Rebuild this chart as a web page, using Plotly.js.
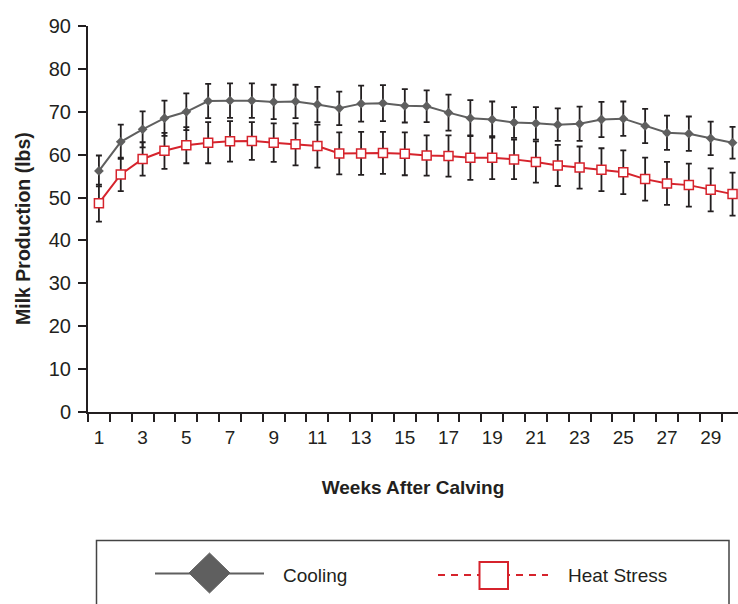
<!DOCTYPE html>
<html>
<head>
<meta charset="utf-8">
<script src="https://cdn.plot.ly/plotly-3.0.1.min.js"></script>
<style>html,body{margin:0;padding:0;background:#fff;}#chart{width:738px;height:604px;}</style>
</head>
<body>
<div id="chart"></div>
<script>
// ---- data ----
const weeks = [1,2,3,4,5,6,7,8,9,10,11,12,13,14,15,16,17,18,19,20,21,22,23,24,25,26,27,28,29,30];
const xTickLabels = ["1","3","5","7","9","11","13","15","17","19","21","23","25","27","29"];
const xTickWeeks = [1,3,5,7,9,11,13,15,17,19,21,23,25,27,29];
const cooling = [56.2,63.0,65.9,68.5,70.0,72.5,72.6,72.6,72.3,72.4,71.7,70.8,71.9,72.0,71.4,71.3,69.8,68.5,68.2,67.5,67.3,67.0,67.2,68.2,68.4,66.7,65.1,64.9,63.8,62.8];
const coolingErr = [3.6,4.0,4.2,4.1,4.3,4.0,4.0,4.0,4.0,3.9,4.1,3.9,4.2,4.2,3.9,3.7,4.2,4.2,4.2,3.6,3.8,3.8,4.0,4.1,4.0,4.0,4.0,4.0,3.9,3.7];
const heat = [48.7,55.4,59.0,60.9,62.2,62.8,63.1,63.2,62.8,62.4,62.0,60.3,60.3,60.4,60.2,59.8,59.7,59.3,59.3,58.9,58.3,57.5,57.0,56.5,55.9,54.3,53.3,52.9,51.8,50.8];
const heatErr = [4.3,3.9,3.9,4.2,4.2,4.8,4.7,4.4,4.5,4.9,5.0,4.9,5.0,4.9,5.0,4.7,4.8,5.2,5.0,4.6,4.8,4.8,4.9,5.0,5.1,5.0,5.0,5.0,5.0,5.0];
const seriesNames = ["Cooling", "Heat Stress"];
const xTitle = "Weeks After Calving";
const yTitle = "Milk Production (lbs)";

// ---- styles ----
const GRAY = "#5f5f5f";
const RED = "#d6232c";
const INK = "#231f20";
const FONT = "Liberation Sans, Arial, sans-serif";

const W = 738, H = 604, L = 88, R = 0, T = 26, B = 192;
const pw = W - L - R, ph = H - T - B;
const px = v => (v - L) / pw;
const py = v => (H - B - v) / ph;

const traces = [
  {
    x: weeks, y: cooling, name: seriesNames[0], type: "scatter", mode: "lines+markers",
    line: {color: GRAY, width: 2},
    marker: {symbol: "diamond", size: 7.5, color: GRAY},
    error_y: {type: "data", array: coolingErr, visible: true, color: INK, thickness: 1.8, width: 3},
    showlegend: false, cliponaxis: false
  },
  {
    x: weeks, y: heat, name: seriesNames[1], type: "scatter", mode: "lines+markers",
    line: {color: RED, width: 2},
    marker: {symbol: "square", size: 9, color: "#ffffff", line: {color: RED, width: 1.5}},
    error_y: {type: "data", array: heatErr, visible: true, color: INK, thickness: 1.8, width: 3},
    showlegend: false, cliponaxis: false
  }
];

const shapes = [
  // legend box
  {type: "rect", xref: "paper", yref: "paper", x0: px(96.5), x1: px(729), y0: py(540.5), y1: py(615),
   line: {color: "#444", width: 1.5}, fillcolor: "rgba(0,0,0,0)"},
  // cooling legend line
  {type: "line", xref: "paper", yref: "paper", x0: px(155), x1: px(264), y0: py(573.5), y1: py(573.5),
   line: {color: GRAY, width: 2}},
  // cooling diamond
  {type: "path", xref: "paper", yref: "paper",
   path: `M ${px(189)},${py(573)} L ${px(209.5)},${py(553)} L ${px(230)},${py(573)} L ${px(209.5)},${py(593)} Z`,
   fillcolor: GRAY, line: {color: GRAY, width: 1}},
  // heat legend dashed line
  {type: "line", xref: "paper", yref: "paper", x0: px(438), x1: px(548), y0: py(575), y1: py(575),
   line: {color: RED, width: 2, dash: "7px,6px"}},
  // heat square
  {type: "rect", xref: "paper", yref: "paper", x0: px(479.5), x1: px(508), y0: py(562), y1: py(589),
   fillcolor: "#ffffff", line: {color: RED, width: 2}}
];

const annotations = [
  {xref: "paper", yref: "paper", x: px(281), y: py(575), xanchor: "left", yanchor: "middle",
   text: seriesNames[0], showarrow: false, font: {family: FONT, size: 19, color: INK}},
  {xref: "paper", yref: "paper", x: px(566), y: py(575), xanchor: "left", yanchor: "middle",
   text: seriesNames[1], showarrow: false, font: {family: FONT, size: 19, color: INK}},
  {xref: "paper", yref: "paper", x: px(23), y: py(229), xanchor: "center", yanchor: "middle",
   textangle: -90, text: "<b>" + yTitle + "</b>", showarrow: false, font: {family: FONT, size: 19.5, color: INK}}
];

const layout = {
  width: W, height: H,
  margin: {l: L, r: R, t: T, b: B, pad: 0},
  paper_bgcolor: "#ffffff", plot_bgcolor: "#ffffff",
  font: {family: FONT, color: INK},
  showlegend: false,
  xaxis: {
    range: [0.5, 30.25], showgrid: false, zeroline: false,
    showline: true, linecolor: INK, linewidth: 2,
    tickmode: "array", tickvals: xTickWeeks, ticktext: xTickLabels,
    ticks: "", tickfont: {family: FONT, size: 19, color: INK},
    ticklabelstandoff: 7,
    minor: {tickmode: "linear", tick0: 0.5, dtick: 1, ticks: "outside", ticklen: 8, tickwidth: 2, tickcolor: INK, showgrid: false},
    title: {text: "<b>" + xTitle + "</b>", font: {family: FONT, size: 19, color: INK}, standoff: 34},
    automargin: false, fixedrange: true
  },
  yaxis: {
    range: [0, 90], dtick: 10, tick0: 0, showgrid: false, zeroline: false,
    showline: true, linecolor: INK, linewidth: 2,
    ticks: "outside", ticklen: 8, tickwidth: 2, tickcolor: INK,
    tickfont: {family: FONT, size: 20, color: INK},
    ticklabelstandoff: 3,
    automargin: false, fixedrange: true
  },
  shapes: shapes,
  annotations: annotations
};

Plotly.newPlot("chart", traces, layout, {displayModeBar: false, staticPlot: true});
</script>
</body>
</html>
